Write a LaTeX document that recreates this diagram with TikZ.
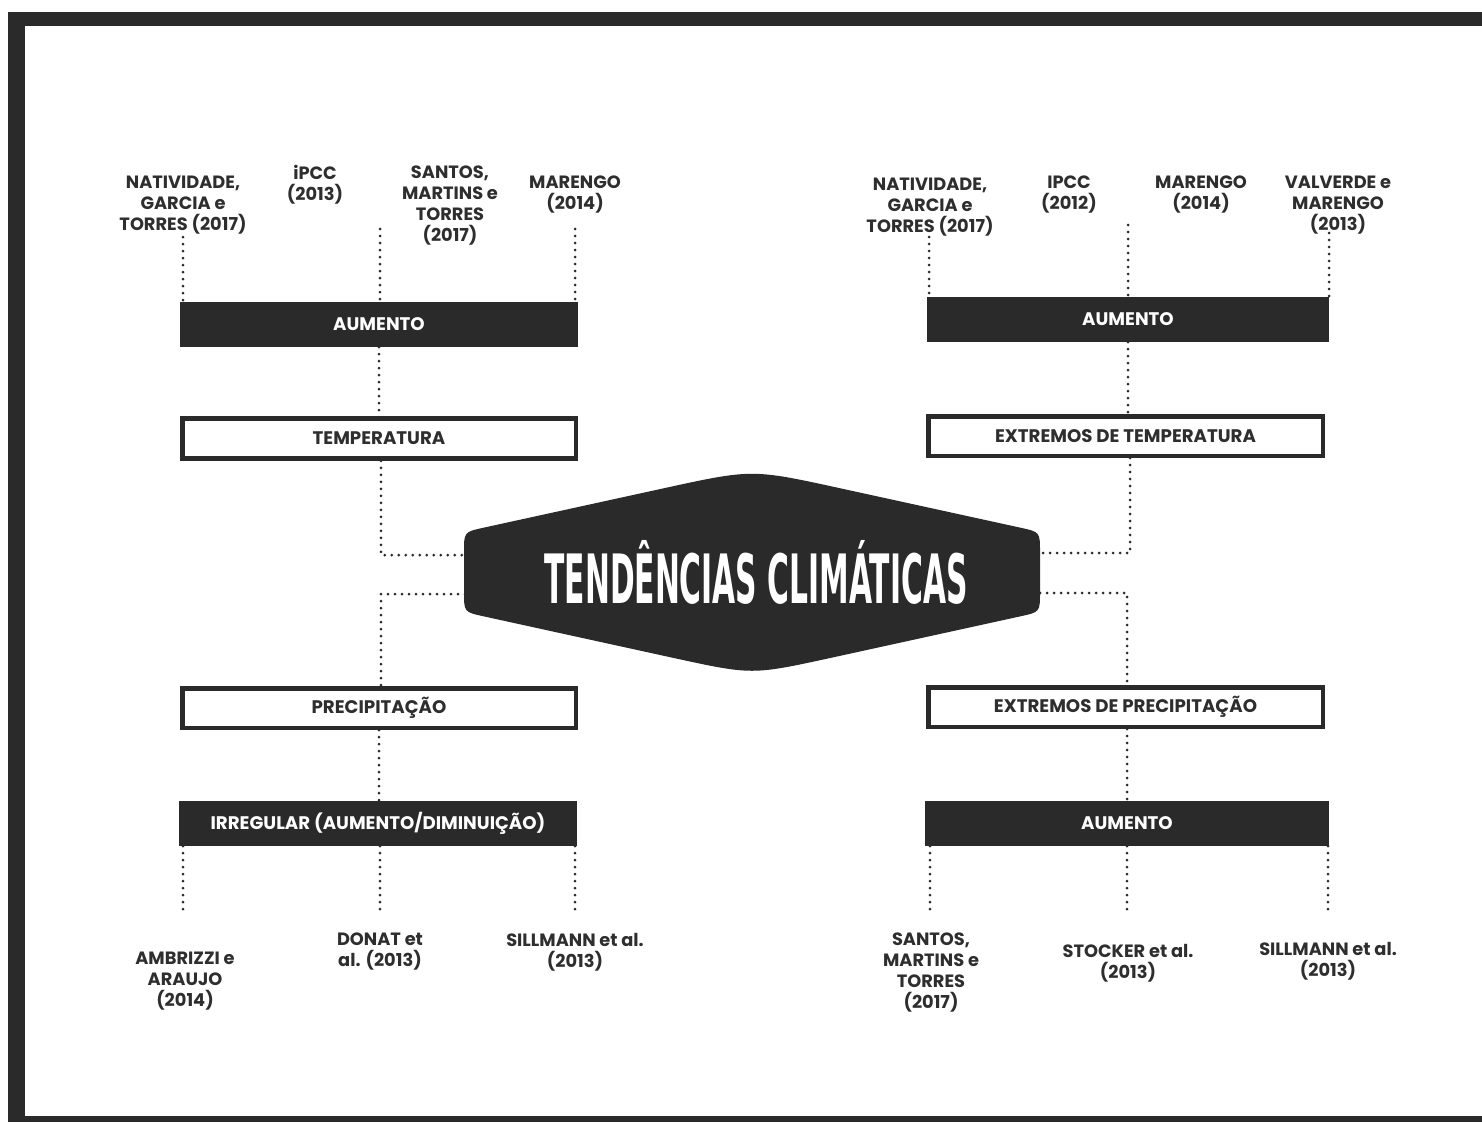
\documentclass[tikz,border=0pt]{standalone}
\usepackage{fontspec}
\setmainfont{Poppins}
\newfontfamily\titlefont{DejaVu Sans}
\definecolor{ink}{HTML}{2A2A2A}
\definecolor{txt}{HTML}{2E2E2E}
\tikzset{
  lab/.style={font=\fontsize{17.8}{20.8}\selectfont\bfseries, text=txt, align=center, inner sep=0pt, anchor=north},
  fillbox/.style={fill=ink, text=white, minimum height=45pt, inner sep=0pt, font=\fontsize{18.2}{20}\selectfont\bfseries},
  linebox/.style={draw=ink, line width=4.5pt, fill=white, text=txt, minimum height=40pt, inner sep=0pt, font=\fontsize{18.2}{20}\selectfont\bfseries},
  dots/.style={draw=ink, line width=3pt, dash pattern=on 0pt off 7pt, line cap=round}
}
\begin{document}
\begin{tikzpicture}[x=1pt,y=-1pt]
\useasboundingbox (0,0) rectangle (1482,1122);
% frame
\fill[ink] (8,12) rectangle (1482,26);
\fill[ink] (8,12) rectangle (25,1122);
\fill[ink] (8,1116) rectangle (1482,1122);

% central hexagon
\fill[ink] (464,552) .. controls (464,532) .. (483.5,527.7) -- (664.1,488.2)
  .. controls (752,469) .. (839.9,488.2) -- (1020.5,527.7)
  .. controls (1040,532) .. (1040,552) -- (1040,592)
  .. controls (1040,612) .. (1020.5,616.3) -- (830.2,658)
  .. controls (752,675) .. (673.8,658) -- (483.5,616.3)
  .. controls (464,612) .. (464,592) -- cycle;
\node[text=white, inner sep=0pt] (title) at (756,572)
  {\resizebox{423pt}{\height}{\titlefont\bfseries\fontsize{68}{68}\selectfont TENDÊNCIAS CLIMÁTICAS}};
\coordinate (hLU) at (465,555);
\coordinate (hLD) at (465,594);
\coordinate (hRU) at (1040,553);
\coordinate (hRD) at (1040,593);

% boxes
\node[fillbox, minimum width=398pt] (aumL) at (379,324.5) {AUMENTO};
\node[linebox, minimum width=393.5pt] (temp) at (379,438.5) {TEMPERATURA};
\node[fillbox, minimum width=402pt] (aumR) at (1128,319.5) {AUMENTO};
\node[linebox, minimum width=394.5pt, minimum height=39.5pt] (etemp) at (1125.5,436) {EXTREMOS DE TEMPERATURA};
\node[linebox, minimum width=393.5pt, minimum height=39.5pt] (prec) at (379,708) {PRECIPITAÇÃO};
\node[fillbox, minimum width=398pt] (irr) at (378,823.5) {IRREGULAR (AUMENTO/DIMINUIÇÃO)};
\node[linebox, minimum width=394.5pt, minimum height=39.5pt] (eprec) at (1125.5,707) {EXTREMOS DE PRECIPITAÇÃO};
\node[fillbox, minimum width=404pt] (aumB) at (1127,823.5) {AUMENTO};

% reference labels, top left
\node[lab] (l1) at (183,176) {NATIVIDADE,\\GARCIA e\\TORRES (2017)};
\node[lab] (l2) at (315,165) {iPCC\\(2013)};
\node[lab] (l3) at (450,166) {SANTOS,\\MARTINS e\\TORRES\\(2017)};
\node[lab] (l4) at (575,176) {MARENGO\\(2014)};
% top right
\node[lab] (r1) at (930,178) {NATIVIDADE,\\GARCIA e\\TORRES (2017)};
\node[lab] (r2) at (1069,176) {IPCC\\(2012)};
\node[lab] (r3) at (1201,176) {MARENGO\\(2014)};
\node[lab] (r4) at (1338,176) {VALVERDE e\\MARENGO\\(2013)};
% bottom left
\node[lab] (b1) at (185,952) {AMBRIZZI e\\ARAUJO\\(2014)};
\node[lab] (b2) at (380,933) {DONAT et\\al. (2013)};
\node[lab] (b3) at (575,933) {SILLMANN et al.\\(2013)};
% bottom right
\node[lab] (c1) at (931,933) {SANTOS,\\MARTINS e\\TORRES\\(2017)};
\node[lab] (c2) at (1128,944) {STOCKER et al.\\(2013)};
\node[lab] (c3) at (1328,942) {SILLMANN et al.\\(2013)};

% free ends of reference connectors
\coordinate (tl1) at (183,237);
\coordinate (tl2) at (380,229);
\coordinate (tl3) at (575,229);
\coordinate (tr1) at (929,237);
\coordinate (tr2) at (1128,225);
\coordinate (tr3) at (1329,233);
\coordinate (bl1) at (183,911);
\coordinate (bl2) at (380,911);
\coordinate (bl3) at (575,911);
\coordinate (br1) at (930,911);
\coordinate (br2) at (1127,911);
\coordinate (br3) at (1328,911);

% connectors
\draw[dots] (tl1) -- (tl1 |- aumL.north);
\draw[dots] (tl2) -- (tl2 |- aumL.north);
\draw[dots] (tl3) -- (tl3 |- aumL.north);
\draw[dots] (tr1) -- (tr1 |- aumR.north);
\draw[dots] (tr2) -- (tr2 |- aumR.north);
\draw[dots] (tr3) -- (tr3 |- aumR.north);
\draw[dots] (bl1 |- irr.south) -- (bl1);
\draw[dots] (bl2 |- irr.south) -- (bl2);
\draw[dots] (bl3 |- irr.south) -- (bl3);
\draw[dots] (br1 |- aumB.south) -- (br1);
\draw[dots] (br2 |- aumB.south) -- (br2);
\draw[dots] (br3 |- aumB.south) -- (br3);

\draw[dots] (aumL.south) -- (temp.north);
\draw[dots] ([xshift=2pt]temp.south) |- (hLU);
\draw[dots] (aumR.south) -- (aumR.south |- etemp.north);
\draw[dots] ([xshift=4.5pt]etemp.south) |- (hRU);
\draw[dots] (hLD) -| ([xshift=2pt]prec.north);
\draw[dots] (prec.south) -- (prec.south |- irr.north);
\draw[dots] (hRD) -| ([xshift=1.5pt]eprec.north);
\draw[dots] ([xshift=1.5pt]eprec.south) -- ([xshift=1.5pt]eprec.south |- aumB.north);
\end{tikzpicture}
\end{document}
